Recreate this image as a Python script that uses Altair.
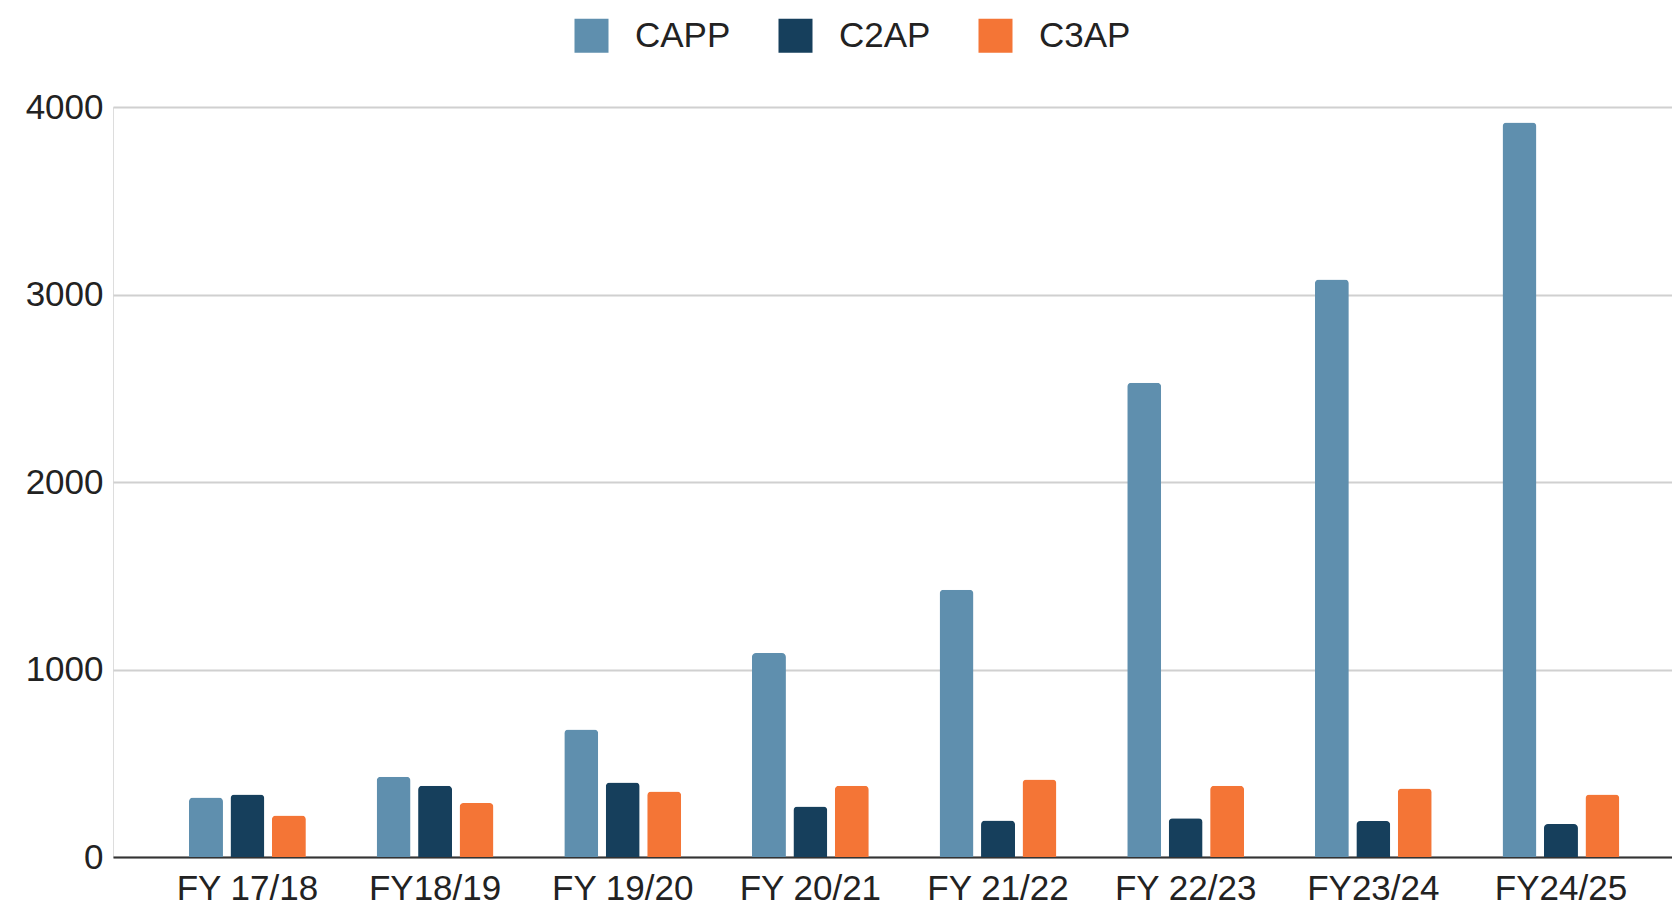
import altair as alt
import pandas as pd

years = ["FY 17/18", "FY18/19", "FY 19/20", "FY 20/21", "FY 21/22", "FY 22/23", "FY23/24", "FY24/25"]
series = ["CAPP", "C2AP", "C3AP"]
capp = [318, 428, 680, 1088, 1426, 2530, 3080, 3918]
c2ap = [334, 380, 397, 270, 195, 207, 192, 176]
c3ap = [222, 288, 350, 380, 413, 380, 366, 333]
colors = ["#5f8fae", "#163f5c", "#f47536"]

rows = []
for i, y in enumerate(years):
    for s, vals in zip(series, [capp, c2ap, c3ap]):
        rows.append({"year": y, "series": s, "value": vals[i]})
df = pd.DataFrame(rows)

FONT = "Liberation Sans"

chart = alt.Chart(df).mark_bar(cornerRadiusTopLeft=4, cornerRadiusTopRight=4).encode(
    x=alt.X("year:N", sort=years, title=None,
            scale=alt.Scale(paddingInner=0.377, paddingOuter=0.3426, align=0.591),
            axis=alt.Axis(labelAngle=0, labelFontSize=35, labelColor="#222222", labelFont=FONT,
                          ticks=False, domainColor="#333333", domainWidth=2, labelPadding=14,
                          grid=False)),
    xOffset=alt.XOffset("series:N", sort=series, scale=alt.Scale(paddingInner=0.18, paddingOuter=0)),
    y=alt.Y("value:Q", title=None,
            scale=alt.Scale(domain=[0, 4000], nice=False),
            axis=alt.Axis(values=[0, 1000, 2000, 3000, 4000], format="d", labelFontSize=35,
                          labelColor="#222222", labelFont=FONT, ticks=False, domain=False,
                          gridColor="#d0d0d0", gridWidth=2, labelPadding=10)),
    color=alt.Color("series:N", sort=series,
                    scale=alt.Scale(domain=series, range=colors),
                    legend=alt.Legend(orient="none", legendX=461, legendY=-89, direction="horizontal",
                                      title=None, symbolType="square", symbolSize=1156,
                                      symbolStrokeWidth=0, labelFontSize=35, labelFont=FONT,
                                      labelColor="#222222", labelOffset=26, columnPadding=47,
                                      padding=0)),
).properties(
    width=1559, height=750,
    autosize=alt.AutoSizeParams(type="none"),
    padding={"left": 105, "top": 99, "right": 0, "bottom": 49},
).configure_view(stroke=None).configure(background="white")

chart.save("out.html", embed_options={"renderer": "svg", "actions": False})
